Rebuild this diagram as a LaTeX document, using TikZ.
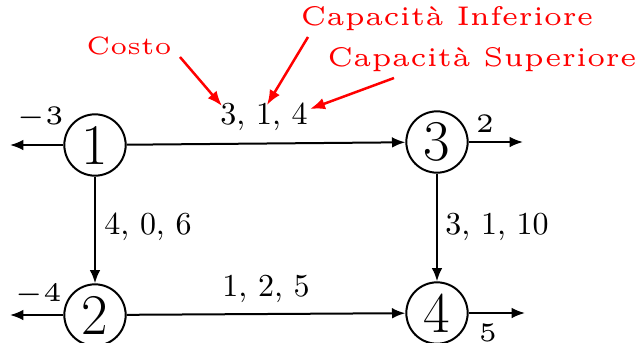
\documentclass[tikz,border=0pt]{standalone}
\usetikzlibrary{arrows.meta}
\begin{document}
\begin{tikzpicture}[x=0.3pt,y=-0.3pt,
  vtx/.style={circle,draw,line width=0.6pt,minimum size=18.4pt,inner sep=0pt,font=\LARGE},
  edge/.style={line width=0.6pt,-{Latex[length=4pt,width=3.2pt]}},
  lbl/.style={inner sep=0pt,font=\fontsize{9.6}{11}\selectfont},
  supply/.style={inner sep=0pt},
  note/.style={inner sep=0pt,text=red},
  notearrow/.style={red,line width=0.75pt,-{Latex[length=4.5pt,width=3.5pt]}}]
\useasboundingbox (0,0) rectangle (636,342);
\node[vtx] (n1) at (95,145) {1};
\node[vtx] (n3) at (437,142) {3};
\node[vtx] (n2) at (95,315) {2};
\node[vtx] (n4) at (437,313) {4};
\coordinate (o1) at (10,145);
\coordinate (o3) at (523,142);
\coordinate (o2) at (10,315);
\coordinate (o4) at (525,313);
\draw[edge] (n1) -- (n3);
\draw[edge] (n2) -- (n4);
\draw[edge] (n1) -- (n2);
\draw[edge] (n3) -- (n4);
\draw[edge] (n1) -- (o1);
\draw[edge] (n3) -- (o3);
\draw[edge] (n2) -- (o2);
\draw[edge] (n4) -- (o4);
\node[lbl] (l13) at (264,117) {3, 1, 4};
\node[lbl] (l24) at (266,289) {1, 2, 5};
\node[lbl] (l12) at (148,227) {4, 0, 6};
\node[lbl] (l34) at (497,227) {3, 1, 10};
\node[supply] (s1) at (40,118) {\scalebox{1.6}{\tiny$-3$}};
\node[supply] (s3) at (485,124) {\scalebox{1.6}{\tiny$2$}};
\node[supply] (s2) at (38,295) {\scalebox{1.6}{\tiny$-4$}};
\node[supply] (s4) at (488,333) {\scalebox{1.6}{\tiny$5$}};
\node[note] (c) at (129,46) {\scalebox{1.5}{\tiny Costo}};
\node[note] (ci) at (447,19) {\scalebox{1.62}{\tiny Capacità Inferiore}};
\node[note] (cs) at (482,60) {\scalebox{1.62}{\tiny Capacità Superiore}};
\coordinate (ct) at (222,106);
\coordinate (cit) at (267,105);
\coordinate (cst) at (310,109);
\draw[notearrow] (180,57) -- (ct);
\draw[notearrow] (308,37) -- (cit);
\draw[notearrow] (394,78) -- (cst);
\end{tikzpicture}
\end{document}
